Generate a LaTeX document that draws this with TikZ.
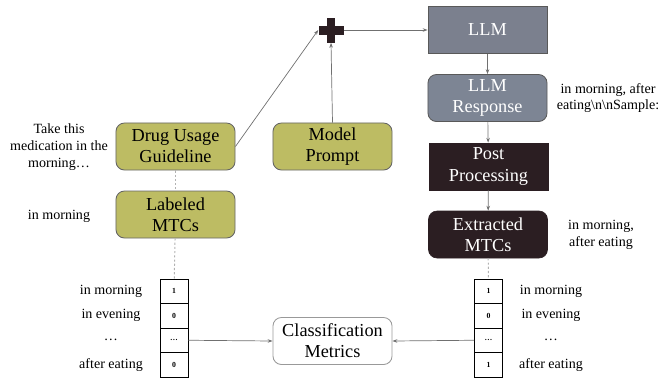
\documentclass[tikz,border=0pt]{standalone}
\usepackage{fontspec}
\setmainfont{Liberation Serif}
\usetikzlibrary{arrows.meta}
\definecolor{boxolive}{HTML}{BDBC63}
\definecolor{llmgray}{HTML}{7B808E}
\definecolor{respgray}{HTML}{7D8594}
\definecolor{darkbox}{HTML}{2B1E22}
\definecolor{linegray}{HTML}{707070}
\begin{document}
\begin{tikzpicture}[x=0.025cm,y=-0.025cm,
  box/.style={minimum width=2.975cm,minimum height=1.175cm,align=center,
    inner sep=1pt,font=\fontsize{13}{15}\selectfont},
  inbox/.style={box,rounded corners=6pt,fill=boxolive,draw=gray!80!black,line width=0.6pt},
  llmbox/.style={box,fill=llmgray,draw=gray!70!black,text=white,line width=0.6pt},
  darkstep/.style={box,fill=darkbox,draw=darkbox,text=white},
  link/.style={draw=linegray,line width=0.5pt,-{Stealth[length=3.5pt,width=2.5pt]}},
  dotlink/.style={draw=gray!60,line width=0.7pt,dash pattern=on 1.5pt off 1.5pt},
  cell/.style={draw=black,line width=0.6pt,minimum width=0.7cm,minimum height=0.6125cm,
    inner sep=0pt,font=\fontsize{5.5}{6}\selectfont\bfseries},
  note/.style={align=center,font=\fontsize{10}{12}\selectfont}]
\useasboundingbox (0,0) rectangle (670,377);

% inputs
\node[inbox] (guide) at (175.5,146.5) {Drug Usage\\Guideline};
\node[inbox] (prompt) at (332.5,146.5) {Model\\Prompt};
\node[inbox] (labeled) at (175.5,214.5) {Labeled\\MTCs};
\node[note] (guidetext) at (59,147) {Take this\\medication in the\\morning\ldots};
\node[note] (labeledtext) at (59,216) {in morning};

% concatenation
\node[minimum size=0.625cm,inner sep=0pt] (plus) at (331,30) {};
\fill[darkbox] (plus.center) +(-12.5,-4.5) rectangle +(12.5,4.5);
\fill[darkbox] (plus.center) +(-4,-12.5) rectangle +(4,12.5);

% model side
\node[llmbox] (llm) at (487.5,30) {LLM};
\node[llmbox,fill=respgray,rounded corners=6pt] (resp) at (487.5,98) {LLM\\Response};
\node[darkstep] (post) at (488.5,166.5) {Post\\Processing};
\node[darkstep,rounded corners=6pt] (extr) at (488,234.5) {Extracted\\MTCs};
\node[note] (resptext) at (608,98) {in morning, after\\eating\textbackslash n\textbackslash nSample:};
\node[note] (extrtext) at (601,235) {in morning,\\after eating};

\node[box,rounded corners=6pt,draw=gray!80,line width=0.6pt,fill=white] (metrics) at (332.5,341)
  {Classification\\Metrics};

% label vectors
\foreach \v [count=\i] in {1,0,\ldots,0}
  \node[cell] (lv\i) at (174,{266.75+24.5*\i}) {\v};
\foreach \v [count=\i] in {1,0,\ldots,1}
  \node[cell] (rv\i) at (488.5,{266.75+24.5*\i}) {\v};
\foreach \t [count=\i] in {in morning,in evening,\ldots,after eating}{
  \node[note] (ll\i) at (111,{266.75+24.5*\i}) {\t};
  \node[note] (rl\i) at (551,{266.75+24.5*\i}) {\t};
}

\draw[link] (guide.east) -- (plus.west);
\draw[link] (prompt.north) -- (plus.south);
\draw[link] (plus.east) -- (llm.west);
\draw[link] (llm) -- (resp);
\draw[link] (resp) -- (post);
\draw[link] (post) -- (extr);
\draw[dotlink] (guide) -- (labeled);
\draw[dotlink] (labeled) -- (lv1);
\draw[dotlink] (extr) -- (rv1);
\draw[link] (lv3.east) -- (metrics.west);
\draw[link] (rv3.west) -- (metrics.east);
\end{tikzpicture}
\end{document}
